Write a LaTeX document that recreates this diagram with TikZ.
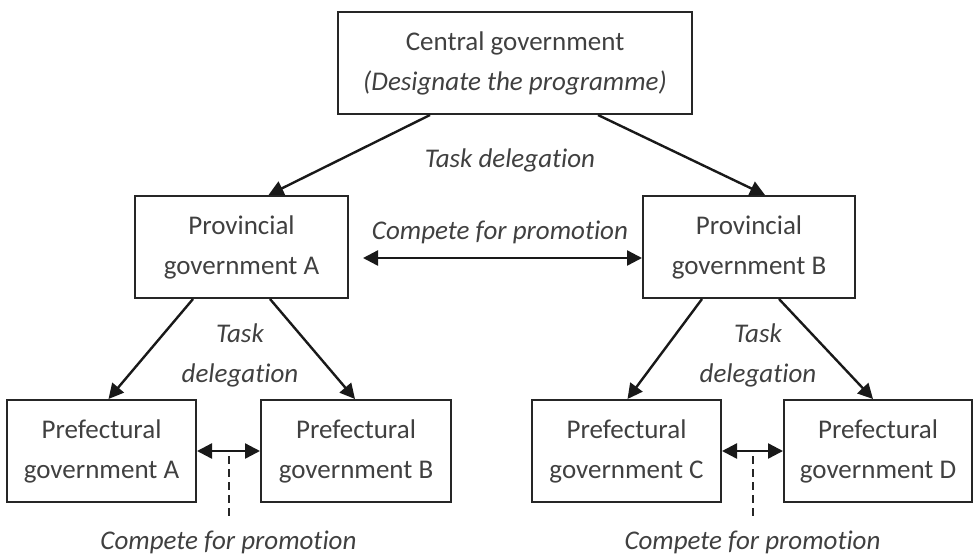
\documentclass[tikz,border=0pt]{standalone}
\usepackage{fontspec}
\setmainfont{Carlito}[Ligatures=NoCommon]
\usetikzlibrary{arrows.meta,calc}
\begin{document}
\begin{tikzpicture}[x=1pt,y=-1pt,
  every node/.style={text=black!75, font=\fontsize{27}{40}\selectfont},
  govbox/.style={draw=black!85, line width=2pt, align=center, inner sep=0pt},
  arr/.style={draw=black!90, line width=2.4pt, -{Triangle[length=15pt,width=15pt]}},
  darr/.style={draw=black!90, line width=2.4pt, {Triangle[length=15pt,width=15pt]}-{Triangle[length=15pt,width=15pt]}},
  link/.style={draw=black!85, line width=2pt, dash pattern=on 8pt off 5pt},
  lbl/.style={font=\fontsize{27}{40}\selectfont\itshape, align=center, inner sep=0pt}]
  \useasboundingbox (0,0) rectangle (974,558);

  % government levels
  \node[govbox, minimum width=354, minimum height=102] (central) at (515,63)
    {Central government\\\textit{(Designate the programme)}};
  \node[govbox, minimum width=213, minimum height=102] (provA) at (241.5,247)
    {Provincial\\government A};
  \node[govbox, minimum width=212, minimum height=102] (provB) at (749,247)
    {Provincial\\government B};
  \node[govbox, minimum width=189, minimum height=102] (prefA) at (101.5,451)
    {Prefectural\\government A};
  \node[govbox, minimum width=190, minimum height=102] (prefB) at (356,451)
    {Prefectural\\government B};
  \node[govbox, minimum width=189, minimum height=102] (prefC) at (626.5,451)
    {Prefectural\\government C};
  \node[govbox, minimum width=188, minimum height=102] (prefD) at (878,451)
    {Prefectural\\government D};

  % task delegation
  \draw[arr] ([xshift=-85pt]central.south) -- ([xshift=27pt]provA.north);
  \draw[arr] ([xshift=83pt]central.south) -- ([xshift=16pt]provB.north);
  \draw[arr] ([xshift=-48.5pt]provA.south) -- ([xshift=7pt]prefA.north);
  \draw[arr] ([xshift=28.5pt]provA.south) -- ([xshift=-1pt]prefB.north);
  \draw[arr] ([xshift=-47pt]provB.south) -- ([xshift=1pt]prefC.north);
  \draw[arr] ([xshift=30pt]provB.south) -- ([xshift=-5pt]prefD.north);

  \node[lbl] (tdTop) at (510,160) {Task delegation};
  \node[lbl] (tdA) at (240,355) {Task\\delegation};
  \node[lbl] (tdB) at (758,355) {Task\\delegation};

  % competition between provinces
  \draw[darr] ($(provA.east)+(14,11)$) -- ($(provB.west)+(0,11)$);
  \node[lbl] (cpTop) at (500,232) {Compete for promotion};

  % competition between prefectures
  \draw[darr] (prefA.east) -- (prefB.west);
  \draw[darr] (prefC.east) -- (prefD.west);
  \coordinate (mAB) at ($(prefA.east)!0.5!(prefB.west)$);
  \coordinate (mCD) at ($(prefC.east)!0.5!(prefD.west)$);
  \node[lbl] (cpAB) at ($(mAB)+(0,91)$) {Compete for promotion};
  \node[lbl] (cpCD) at ($(mCD)+(0,91)$) {Compete for promotion};
  \draw[link] ($(mAB)+(0,5)$) -- ($(mAB)+(0,66)$);
  \draw[link] ($(mCD)+(0,5)$) -- ($(mCD)+(0,66)$);
\end{tikzpicture}
\end{document}
